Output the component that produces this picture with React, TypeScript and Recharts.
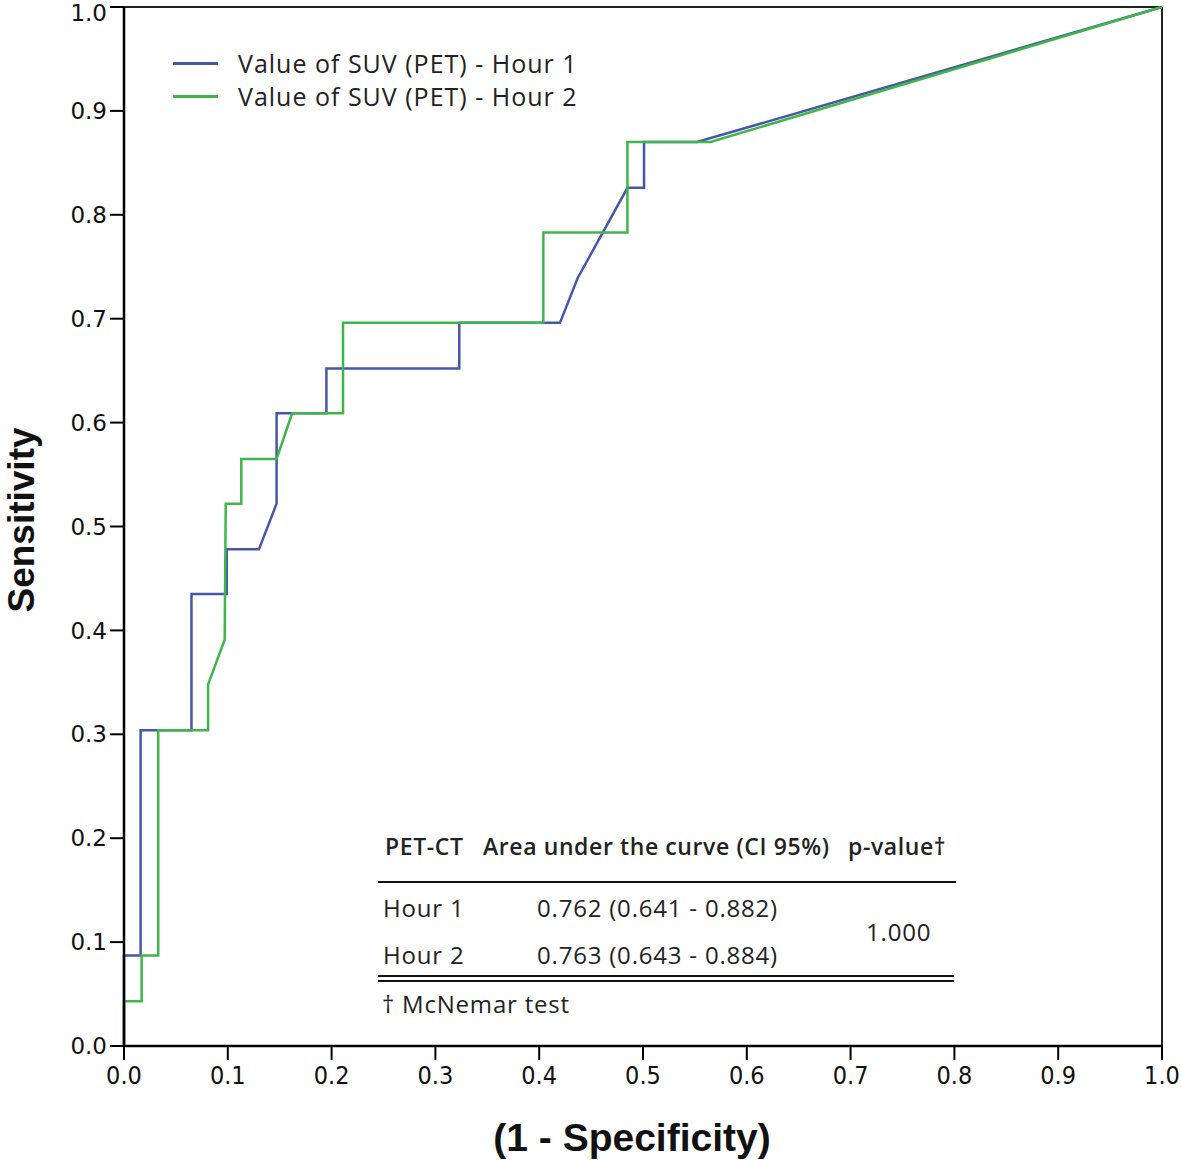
import { LineChart, Line, XAxis, YAxis, ReferenceLine } from 'recharts';

// ROC points (x = 1 - specificity, y = sensitivity)
const hour1 = [
  { x: 0, y: 0 },
  { x: 0, y: 0.087 },
  { x: 0.016, y: 0.087 },
  { x: 0.016, y: 0.304 },
  { x: 0.065, y: 0.304 },
  { x: 0.065, y: 0.435 },
  { x: 0.099, y: 0.435 },
  { x: 0.099, y: 0.478 },
  { x: 0.13, y: 0.478 },
  { x: 0.147, y: 0.522 },
  { x: 0.147, y: 0.609 },
  { x: 0.195, y: 0.609 },
  { x: 0.195, y: 0.652 },
  { x: 0.323, y: 0.652 },
  { x: 0.323, y: 0.696 },
  { x: 0.42, y: 0.696 },
  { x: 0.437, y: 0.739 },
  { x: 0.485, y: 0.826 },
  { x: 0.501, y: 0.826 },
  { x: 0.501, y: 0.87 },
  { x: 0.552, y: 0.87 },
  { x: 1, y: 1 },
];

const hour2 = [
  { x: 0, y: 0 },
  { x: 0, y: 0.043 },
  { x: 0.017, y: 0.043 },
  { x: 0.017, y: 0.087 },
  { x: 0.033, y: 0.087 },
  { x: 0.033, y: 0.304 },
  { x: 0.081, y: 0.304 },
  { x: 0.081, y: 0.348 },
  { x: 0.097, y: 0.391 },
  { x: 0.098, y: 0.522 },
  { x: 0.113, y: 0.522 },
  { x: 0.113, y: 0.565 },
  { x: 0.147, y: 0.565 },
  { x: 0.162, y: 0.609 },
  { x: 0.211, y: 0.609 },
  { x: 0.211, y: 0.696 },
  { x: 0.404, y: 0.696 },
  { x: 0.404, y: 0.783 },
  { x: 0.485, y: 0.783 },
  { x: 0.485, y: 0.87 },
  { x: 0.565, y: 0.87 },
  { x: 1, y: 1 },
];

const ticks = [0, 0.1, 0.2, 0.3, 0.4, 0.5, 0.6, 0.7, 0.8, 0.9, 1];

const seriesNames = ['Value of SUV (PET) - Hour 1', 'Value of SUV (PET) - Hour 2'];
const colors = ['#4657a6', '#3fb54c'];

const tableHeader = ['PET-CT', 'Area under the curve (CI 95%)', 'p-value\u2020'];
const tableRows = [
  ['Hour 1', '0.762 (0.641 - 0.882)'],
  ['Hour 2', '0.763 (0.643 - 0.884)'],
];
const pValue = '1.000';
const footnote = '\u2020 McNemar test';

const txt = { fontFamily: 'Open Sans, sans-serif', color: '#222', position: 'absolute' as const, whiteSpace: 'nowrap' as const };
const cell = { ...txt, transform: 'translateY(-50%)', fontSize: 24, letterSpacing: 0.8 };
const head = { ...txt, transform: 'translateY(-50%)', fontSize: 23, letterSpacing: 0.6, fontWeight: 600 };

export default function App() {
  return (
    <div style={{ position: 'absolute', left: 0, top: 0, width: 1181, height: 1160, background: '#fff' }}>
      <LineChart width={1181} height={1160} margin={{ top: 7, right: 19, bottom: 0, left: 0 }}>
        <XAxis
          type="number"
          dataKey="x"
          domain={[0, 1]}
          ticks={ticks}
          height={114}
          tickSize={14}
          tickMargin={6}
          tickFormatter={(v: number) => v.toFixed(1)}
          axisLine={{ stroke: '#000', strokeWidth: 2.5 }}
          tickLine={{ stroke: '#000', strokeWidth: 2 }}
          tick={{ fontFamily: 'Liberation Sans Narrow, DejaVu Sans Condensed, sans-serif', fontSize: 25, fill: '#111' }}
        />
        <YAxis
          type="number"
          dataKey="y"
          domain={[0, 1]}
          ticks={ticks}
          width={124}
          tickSize={14}
          tickMargin={3}
          tickFormatter={(v: number) => v.toFixed(1)}
          axisLine={{ stroke: '#000', strokeWidth: 2.5 }}
          tickLine={{ stroke: '#000', strokeWidth: 2 }}
          tick={{ fontFamily: 'DejaVu Sans, sans-serif', fontSize: 23, fill: '#111' }}
        />
        <ReferenceLine y={1} stroke="#222" strokeWidth={2} />
        <ReferenceLine x={1} stroke="#222" strokeWidth={2} />
        <Line data={hour1} dataKey="y" type="linear" stroke={colors[0]} strokeWidth={2.5} dot={false} isAnimationActive={false} />
        <Line data={hour2} dataKey="y" type="linear" stroke={colors[1]} strokeWidth={2.5} dot={false} isAnimationActive={false} />
      </LineChart>

      {/* axis titles */}
      <div
        style={{
          ...txt,
          left: 21,
          top: 520,
          lineHeight: 1,
          transform: 'translate(-50%, -50%) rotate(-90deg)',
          fontFamily: 'Liberation Sans, Arial, sans-serif',
          fontWeight: 700,
          fontSize: 37,
          color: '#111',
        }}
      >
        Sensitivity
      </div>
      <div
        style={{
          ...txt,
          left: 632,
          top: 1137,
          lineHeight: 1,
          transform: 'translate(-50%, -50%)',
          fontFamily: 'Liberation Sans, Arial, sans-serif',
          fontWeight: 700,
          fontSize: 39,
          color: '#111',
        }}
      >
        (1 - Specificity)
      </div>

      {/* legend */}
      {seriesNames.map((name, i) => (
        <div key={name}>
          <div style={{ position: 'absolute', left: 173, top: 62 + i * 33, width: 45, height: 3, background: colors[i] }} />
          <div style={{ ...txt, left: 238, top: 63 + i * 33, transform: 'translateY(-50%)', fontSize: 25, letterSpacing: 1 }}>{name}</div>
        </div>
      ))}

      {/* AUC table */}
      <div style={{ ...head, left: 385, top: 846 }}>{tableHeader[0]}</div>
      <div style={{ ...head, left: 483, top: 846 }}>{tableHeader[1]}</div>
      <div style={{ ...head, left: 848, top: 846 }}>{tableHeader[2]}</div>
      <div style={{ position: 'absolute', left: 378, top: 881, width: 578, height: 2, background: '#111' }} />
      {tableRows.map((row, i) => (
        <div key={row[0]}>
          <div style={{ ...cell, left: 383, top: 907 + i * 47 }}>{row[0]}</div>
          <div style={{ ...cell, left: 537, top: 907 + i * 47 }}>{row[1]}</div>
        </div>
      ))}
      <div style={{ ...cell, left: 866, top: 931 }}>{pValue}</div>
      <div style={{ position: 'absolute', left: 378, top: 975, width: 576, height: 2, background: '#111' }} />
      <div style={{ position: 'absolute', left: 378, top: 980, width: 576, height: 2, background: '#111' }} />
      <div style={{ ...cell, left: 382, top: 1003 }}>{footnote}</div>
    </div>
  );
}
